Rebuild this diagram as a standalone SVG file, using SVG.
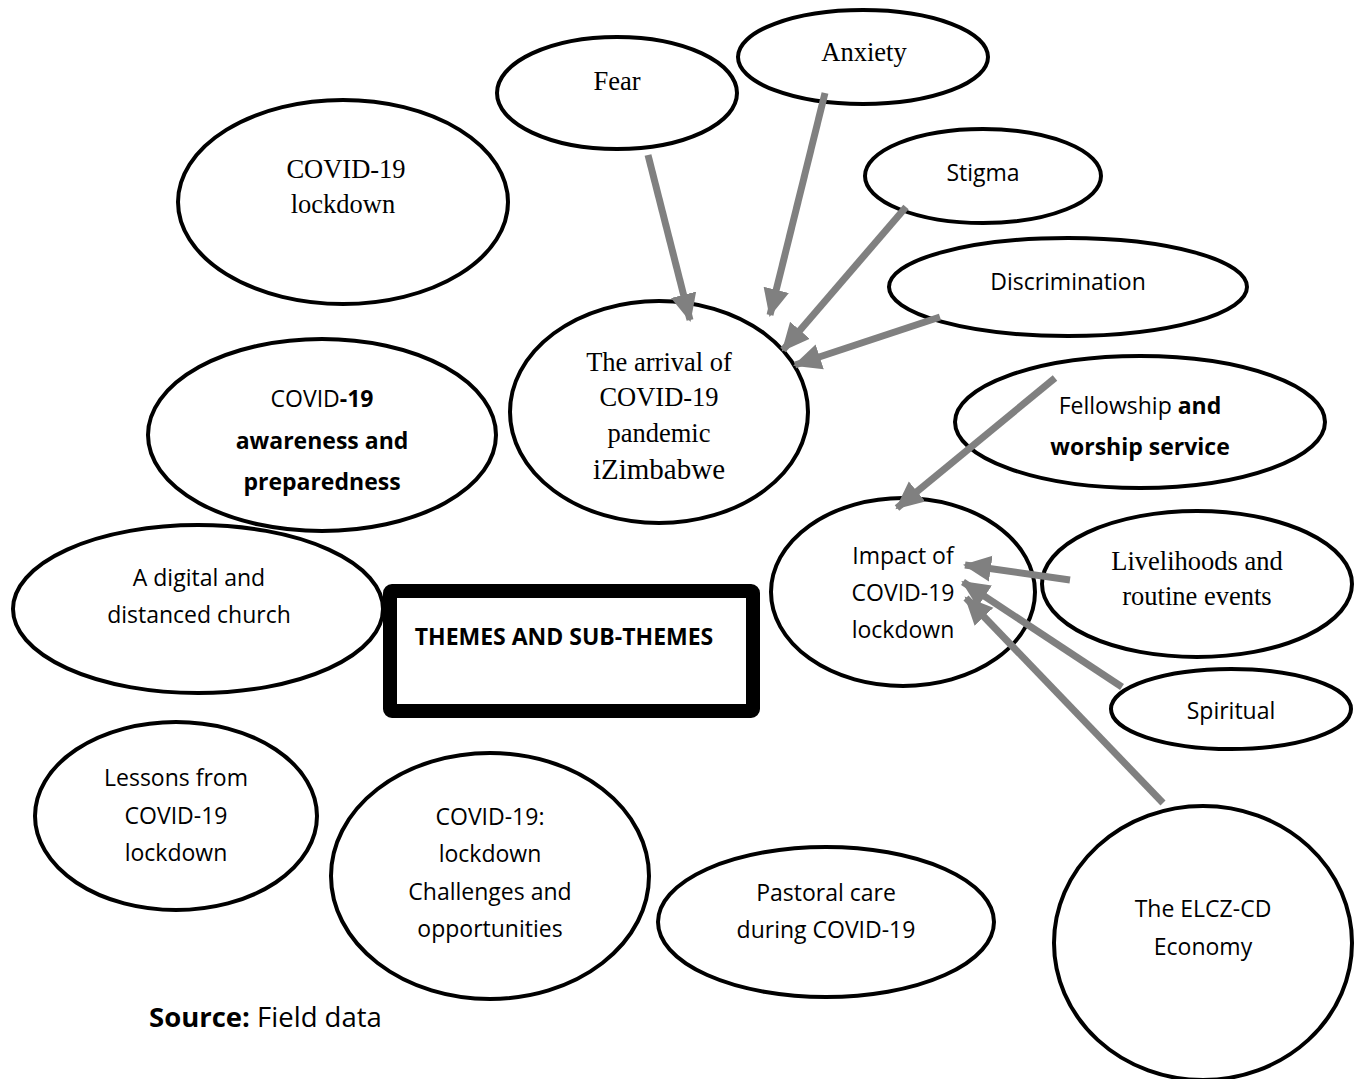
<svg xmlns="http://www.w3.org/2000/svg" width="1354" height="1079" viewBox="0 0 1354 1079">
<style>
.n{fill:none;stroke:#000;stroke-width:4}
.s{font-family:"Liberation Serif",serif;font-size:26.5px;fill:#000;text-anchor:middle}
.a{font-family:"Open Sans","Liberation Sans",sans-serif;font-size:23px;fill:#000;text-anchor:middle}
.b{font-weight:bold}
.c{stroke:#808080;stroke-width:7;fill:none;marker-end:url(#ah)}
</style>
<defs>
<marker id="ah" markerUnits="userSpaceOnUse" markerWidth="30" markerHeight="30" viewBox="0 0 30 30" refX="26" refY="15" orient="auto">
<path d="M0,2 L28,15 L0,28 Z" fill="#808080"/>
</marker>
</defs>
<rect width="1354" height="1079" fill="#fff"/>
<g id="fear"><ellipse class="n" cx="617" cy="93" rx="120" ry="56"/><text class="s" x="617" y="90">Fear</text></g>
<g id="anxiety"><ellipse class="n" cx="863" cy="57" rx="125" ry="47"/><text class="s" x="864" y="61">Anxiety</text></g>
<g id="lockdown"><ellipse class="n" cx="343" cy="202" rx="165" ry="102"/><text class="s" x="346" y="178">COVID-19</text><text class="s" x="343" y="213">lockdown</text></g>
<g id="stigma"><ellipse class="n" cx="983" cy="176" rx="118" ry="47"/><text class="a" x="983" y="181">Stigma</text></g>
<g id="discrimination"><ellipse class="n" cx="1068" cy="287" rx="179" ry="49"/><text class="a" x="1068" y="290">Discrimination</text></g>
<g id="arrival"><ellipse class="n" cx="659" cy="412" rx="149" ry="111"/><text class="s" x="659" y="371">The arrival of</text><text class="s" x="659" y="406">COVID-19</text><text class="s" x="659" y="442">pandemic</text><text class="s" x="659" y="479" style="font-size:29px">iZimbabwe</text></g>
<g id="awareness"><ellipse class="n" cx="322" cy="435" rx="174" ry="96"/><text class="a" x="322" y="407">COVID<tspan class="b">-19</tspan></text><text class="a b" x="322" y="449">awareness and</text><text class="a b" x="322" y="490">preparedness</text></g>
<g id="fellowship"><ellipse class="n" cx="1140" cy="422" rx="185" ry="66"/><text class="a" x="1140" y="414">Fellowship <tspan class="b">and</tspan></text><text class="a b" x="1140" y="455">worship service</text></g>
<g id="digital"><ellipse class="n" cx="198" cy="609" rx="185" ry="84"/><text class="a" x="199" y="586">A digital and</text><text class="a" x="199" y="623">distanced church</text></g>
<g id="impact"><ellipse class="n" cx="903" cy="592" rx="132" ry="94"/><text class="a" x="903" y="564">Impact of</text><text class="a" x="903" y="601">COVID-19</text><text class="a" x="903" y="638">lockdown</text></g>
<g id="livelihoods"><ellipse class="n" cx="1197" cy="584" rx="155" ry="73"/><text class="s" x="1197" y="570">Livelihoods and</text><text class="s" x="1197" y="605">routine events</text></g>
<g id="spiritual"><ellipse class="n" cx="1231" cy="709" rx="120" ry="40"/><text class="a" x="1231" y="719">Spiritual</text></g>
<g id="themes"><rect x="390" y="591" width="363" height="120" fill="none" stroke="#000" stroke-width="14" rx="2"/><text class="a b" x="564" y="645" style="font-size:23px">THEMES AND SUB-THEMES</text></g>
<g id="lessons"><ellipse class="n" cx="176" cy="816" rx="141" ry="94"/><text class="a" x="176" y="786">Lessons from</text><text class="a" x="176" y="824">COVID-19</text><text class="a" x="176" y="861">lockdown</text></g>
<g id="challenges"><ellipse class="n" cx="490" cy="876" rx="159" ry="123"/><text class="a" x="490" y="825">COVID-19:</text><text class="a" x="490" y="862">lockdown</text><text class="a" x="490" y="900">Challenges and</text><text class="a" x="490" y="937">opportunities</text></g>
<g id="pastoral"><ellipse class="n" cx="826" cy="922" rx="168" ry="75"/><text class="a" x="826" y="901">Pastoral care</text><text class="a" x="826" y="938">during COVID-19</text></g>
<g id="economy"><ellipse class="n" cx="1203" cy="943" rx="149" ry="137"/><text class="a" x="1203" y="917">The ELCZ-CD</text><text class="a" x="1203" y="955">Economy</text></g>
<text x="149" y="1027" style="font-family:'Open Sans','Liberation Sans',sans-serif;font-size:27.5px;fill:#000"><tspan font-weight="bold">Source:</tspan> Field data</text>
<g id="connectors">
<line class="c" x1="648" y1="155" x2="690" y2="320"/>
<line class="c" x1="825" y1="93" x2="770" y2="315"/>
<line class="c" x1="906" y1="207" x2="783" y2="350"/>
<line class="c" x1="940" y1="317" x2="795" y2="365"/>
<line class="c" x1="1055" y1="378" x2="897" y2="508"/>
<line class="c" x1="1070" y1="580" x2="965" y2="565"/>
<line class="c" x1="1122" y1="687" x2="963" y2="582"/>
<line class="c" x1="1163" y1="803" x2="966" y2="598"/>
</g>
</svg>
